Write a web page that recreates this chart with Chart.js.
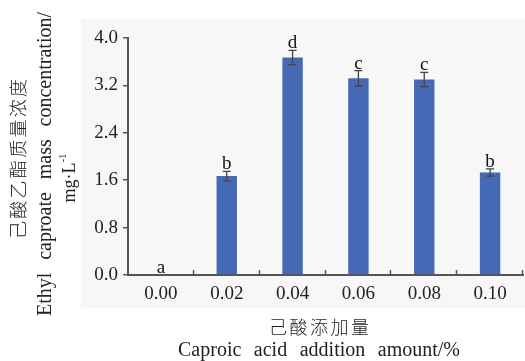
<!DOCTYPE html>
<html>
<head>
<meta charset="utf-8">
<script src="https://cdn.jsdelivr.net/npm/chart.js@4"></script>
<style>
  html, body { margin: 0; padding: 0; background: #fff; }
  #wrap { width: 525px; height: 361px; }
</style>
</head>
<body>
<div id="wrap"><canvas id="chart" width="525" height="361"></canvas></div>
<script>
// dados
const categorias = ['0.00', '0.02', '0.04', '0.06', '0.08', '0.10'];
const concentracao = [0, 1.67, 3.67, 3.32, 3.30, 1.73];
const erros = [0, 0.08, 0.12, 0.13, 0.12, 0.06];
const letras = ['a', 'b', 'd', 'c', 'c', 'b'];
const yTicks = [0, 0.8, 1.6, 2.4, 3.2, 4.0];

const serif = '"Liberation Serif", "Times New Roman", serif';
const cjk = '"Noto Sans CJK SC", sans-serif';

// escreve texto distribuindo as partes numa largura fixa
function textoEspacado(ctx, partes, cx, cy, largura, rot) {
  ctx.save();
  ctx.translate(cx, cy);
  if (rot) ctx.rotate(rot);
  const larguras = partes.map(p => ctx.measureText(p).width);
  const total = larguras.reduce((a, b) => a + b, 0);
  const gap = partes.length > 1 ? (largura - total) / (partes.length - 1) : 0;
  let x = -largura / 2;
  ctx.textAlign = 'left';
  ctx.textBaseline = 'middle';
  partes.forEach((p, i) => {
    ctx.fillText(p, x, 0);
    x += larguras[i] + gap;
  });
  ctx.restore();
}

const fundoPlugin = {
  id: 'fundo',
  beforeDraw(chart) {
    const ctx = chart.ctx;
    ctx.save();
    ctx.fillStyle = '#f7f7f7';
    ctx.fillRect(81, 19, 444, 289);
    ctx.restore();
  }
};

const extrasPlugin = {
  id: 'extras',
  afterDatasetsDraw(chart) {
    const ctx = chart.ctx;
    const x = chart.scales.x;
    const y = chart.scales.y;
    ctx.save();
    // barras de erro
    ctx.strokeStyle = '#444';
    ctx.lineWidth = 1.3;
    concentracao.forEach((v, i) => {
      if (!erros[i]) return;
      const px = x.getPixelForValue(i);
      const top = y.getPixelForValue(v + erros[i]);
      const bot = y.getPixelForValue(v - erros[i]);
      ctx.beginPath();
      ctx.moveTo(px, top); ctx.lineTo(px, bot);
      ctx.moveTo(px - 4, top); ctx.lineTo(px + 4, top);
      ctx.moveTo(px - 4, bot); ctx.lineTo(px + 4, bot);
      ctx.stroke();
    });
    // letras de significância
    ctx.fillStyle = '#111';
    ctx.font = '19px ' + serif;
    ctx.textAlign = 'center';
    ctx.textBaseline = 'alphabetic';
    letras.forEach((l, i) => {
      const px = x.getPixelForValue(i);
      const top = y.getPixelForValue(concentracao[i] + erros[i]);
      ctx.fillText(l, px, top - 2);
    });
    ctx.restore();
  },
  afterDraw(chart) {
    const ctx = chart.ctx;
    const area = chart.chartArea;
    ctx.save();
    // marcas do eixo x para dentro
    ctx.strokeStyle = '#555';
    ctx.lineWidth = 1.5;
    const passo = (area.right - area.left) / categorias.length;
    for (let i = 1; i <= categorias.length; i++) {
      const px = Math.round(area.left + passo * i) - 0.5;
      ctx.beginPath();
      ctx.moveTo(px, area.bottom);
      ctx.lineTo(px, area.bottom - 5);
      ctx.stroke();
    }
    // títulos
    ctx.fillStyle = '#222';
    ctx.font = '300 18px ' + cjk;
    textoEspacado(ctx, Array.from('己酸添加量'), 319, 327, 100, 0);
    ctx.font = '20px ' + serif;
    textoEspacado(ctx, ['Caproic', 'acid', 'addition', 'amount/%'], 319, 351, 282, 0);
    ctx.font = '300 18px ' + cjk;
    textoEspacado(ctx, Array.from('己酸乙酯质量浓度'), 18, 159, 160, -Math.PI / 2);
    ctx.font = '20px ' + serif;
    textoEspacado(ctx, ['Ethyl', 'caproate', 'mass', 'concentration/'], 46, 164, 304, -Math.PI / 2);
    // mg·L-1 com expoente
    ctx.save();
    ctx.translate(70, 178);
    ctx.rotate(-Math.PI / 2);
    ctx.textBaseline = 'middle';
    const base = 'mg\u00b7L';
    ctx.font = '11px ' + serif;
    const wSup = ctx.measureText('-1').width;
    ctx.font = '18px ' + serif;
    const wBase = ctx.measureText(base).width;
    const x0 = -(wBase + wSup) / 2;
    ctx.textAlign = 'left';
    ctx.fillText(base, x0, 0);
    ctx.font = '11px ' + serif;
    ctx.fillText('-1', x0 + wBase, -7);
    ctx.restore();
    ctx.restore();
  }
};

new Chart(document.getElementById('chart'), {
  type: 'bar',
  data: {
    labels: categorias,
    datasets: [{
      data: concentracao,
      backgroundColor: '#4669b5',
      borderWidth: 0,
      barPercentage: 0.31,
      categoryPercentage: 1
    }]
  },
  options: {
    responsive: false,
    animation: false,
    devicePixelRatio: 1,
    layout: { padding: { left: 0, right: 2, top: 38, bottom: 0 } },
    plugins: {
      legend: { display: false },
      tooltip: { enabled: false }
    },
    scales: {
      x: {
        grid: { drawOnChartArea: false, drawTicks: false },
        border: { color: '#555', width: 2 },
        ticks: {
          color: '#222',
          padding: 8,
          font: { family: serif, size: 19 }
        },
        afterFit: s => { s.height = 86; }
      },
      y: {
        min: 0,
        max: 4,
        afterBuildTicks: s => { s.ticks = yTicks.map(v => ({ value: v })); },
        grid: { drawOnChartArea: false, tickLength: 5, color: '#555', lineWidth: 1.5 },
        border: { color: '#555', width: 2 },
        ticks: {
          color: '#222',
          padding: 5,
          font: { family: serif, size: 19 },
          callback: v => Number(v).toFixed(1)
        },
        afterFit: s => { s.width = 128; }
      }
    }
  },
  plugins: [fundoPlugin, extrasPlugin]
});
</script>
</body>
</html>
